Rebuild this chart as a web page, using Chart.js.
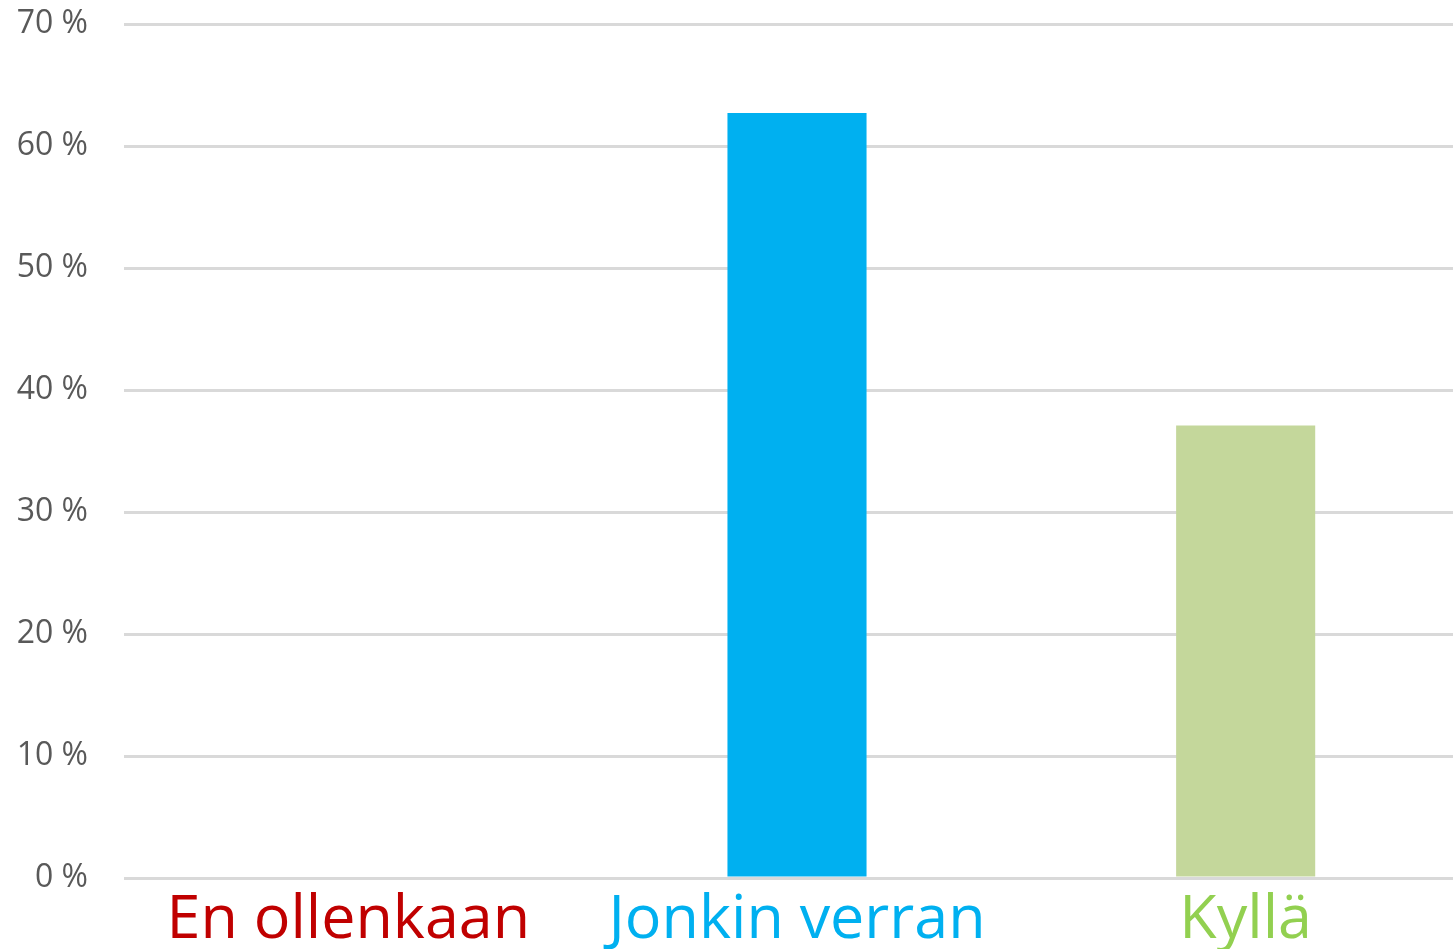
<!DOCTYPE html>
<html>
<head>
<meta charset="utf-8">
<script src="https://cdn.jsdelivr.net/npm/chart.js@4"></script>
<style>
  html, body { margin: 0; padding: 0; background: #ffffff; overflow: hidden; }
  #wrap { position: relative; width: 1480px; height: 949px; }
</style>
</head>
<body>
<div id="wrap"><canvas id="c"></canvas></div>
<script>
const categories = ["En ollenkaan", "Jonkin verran", "Kyllä"];
const values = [0, 62.7, 37.1];
const barColors = ["#C00000", "#00B0F0", "#C4D79B"];
const labelColors = ["#C00000", "#00B0F0", "#92D050"];
const yTicks = [0, 10, 20, 30, 40, 50, 60, 70];

new Chart(document.getElementById("c"), {
  type: "bar",
  data: {
    labels: categories,
    datasets: [{
      data: values,
      backgroundColor: barColors,
      borderWidth: 0,
      barPercentage: 0.31,
      categoryPercentage: 1.0
    }]
  },
  options: {
    responsive: true,
    maintainAspectRatio: false,
    animation: false,
    layout: { padding: { top: 0, left: 12, right: 10, bottom: 0 } },
    plugins: { legend: { display: false }, tooltip: { enabled: false } },
    scales: {
      x: {
        grid: { display: false },
        border: { display: false },
        afterFit: (axis) => { axis.height = 71; },
        ticks: {
          padding: 4,
          font: { family: "Open Sans", size: 61, lineHeight: 1.0 },
          color: (ctx) => labelColors[ctx.index]
        }
      },
      y: {
        min: 0,
        max: 70,
        afterBuildTicks: (axis) => { axis.ticks = yTicks.map(v => ({ value: v })); },
        afterFit: (axis) => { axis.width = 112; axis.paddingTop = 24; axis.paddingBottom = 0; },
        grid: { color: "#D9D9D9", lineWidth: 3, drawTicks: false },
        border: { display: false },
        ticks: {
          padding: 36,
          font: { family: "Open Sans", size: 32 },
          color: "#595959",
          callback: (v) => v + " %"
        }
      }
    }
  }
});
</script>
</body>
</html>
